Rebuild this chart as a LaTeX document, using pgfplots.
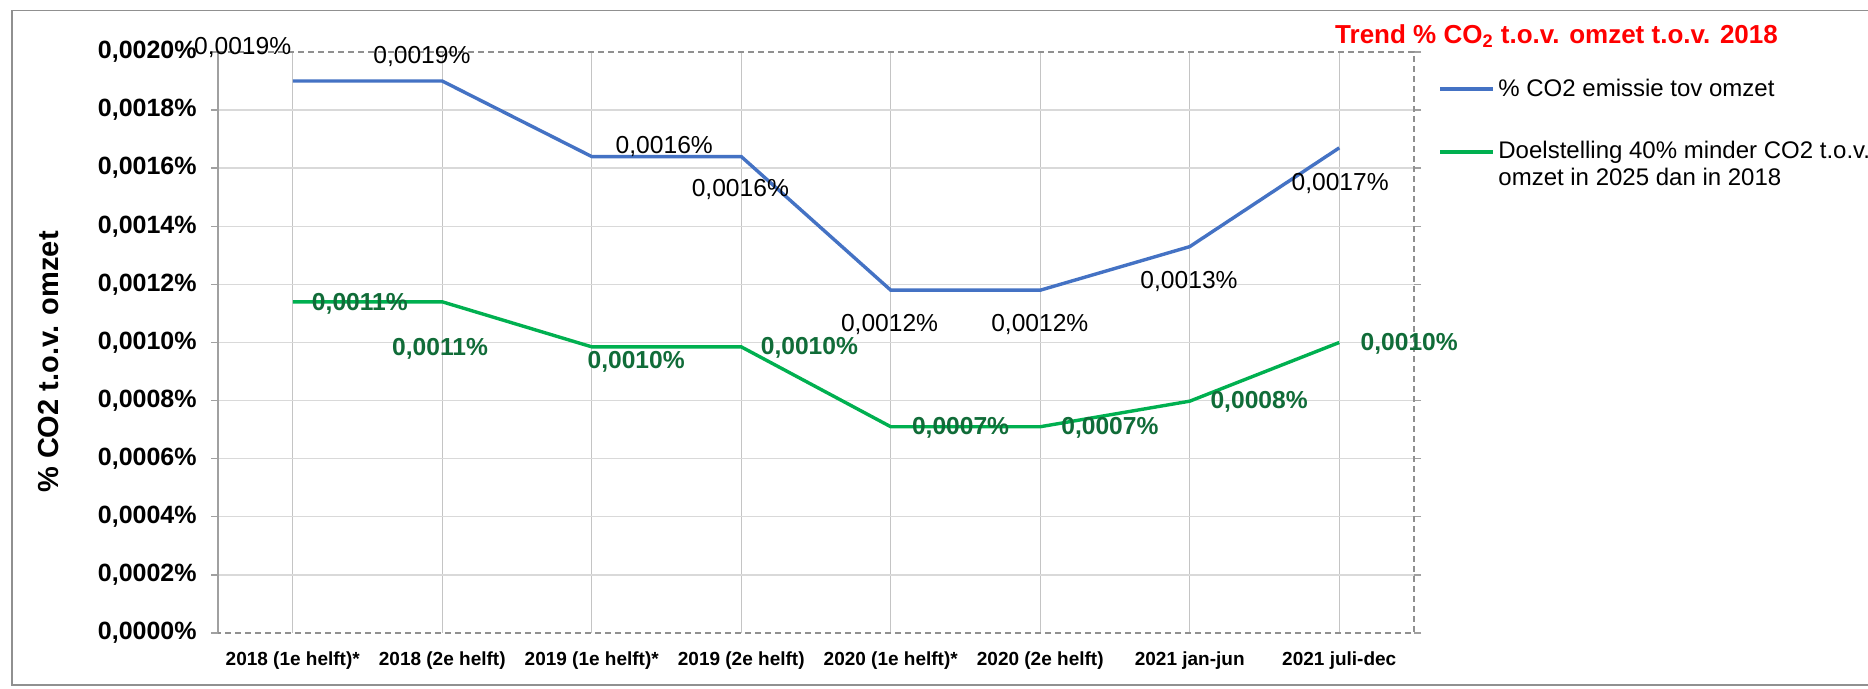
\documentclass[border=0pt]{standalone}
\usepackage{fontspec}
\setmainfont{Liberation Sans}
\usepackage{pgfplots}
\pgfplotsset{compat=1.18}
\definecolor{lblue}{HTML}{4472C4}
\definecolor{lgreen}{HTML}{00B050}
\definecolor{dgreen}{RGB}{16,108,56}
\definecolor{hgrid}{HTML}{D9D9D9}
\definecolor{vgrid}{HTML}{C4C4C4}
\definecolor{axgray}{HTML}{A0A0A0}
\definecolor{brd}{HTML}{909090}
\definecolor{tred}{HTML}{FF0000}
\begin{document}
\begin{tikzpicture}
\useasboundingbox (0,0) rectangle (934pt,344.5pt);
\clip (0,0) rectangle (934pt,344.5pt);
\fill[white] (0,0) rectangle (934pt,344.5pt);
\draw[brd, line width=0.7pt] (6pt,2pt) rectangle (950pt,339.2pt);
\begin{axis}[
  at={(109pt,28pt)}, anchor=south west,
  scale only axis, width=598pt, height=290.5pt,
  xmin=-0.5, xmax=7.5, ymin=0, ymax=0.002,
  clip=false,
  axis line style={draw=none},
  xtick={0,1,2,3,4,5,6,7},
  xticklabels={2018 (1e helft)*,2018 (2e helft),2019 (1e helft)*,2019 (2e helft),2020 (1e helft)*,2020 (2e helft),2021 jan-jun,2021 juli-dec},
  xticklabel style={font=\fontsize{9.5pt}{11pt}\selectfont\bfseries, anchor=center, yshift=-10.5pt},
  xtick style={draw=none},
  xmajorgrids, x grid style={draw=vgrid, line width=0.7pt},
  ytick={0.0002,0.0004,0.0006,0.0008,0.0010,0.0012,0.0014,0.0016,0.0018},
  yticklabels={{0,0002\%},{0,0004\%},{0,0006\%},{0,0008\%},{0,0010\%},{0,0012\%},{0,0014\%},{0,0016\%},{0,0018\%}},
  extra y ticks={0,0.002},
  extra y tick labels={{0,0000\%},{0,0020\%}},
  extra y tick style={ymajorgrids=false},
  ymajorgrids, y grid style={draw=hgrid, line width=0.7pt},
  yticklabel style={font=\fontsize{12.5pt}{14pt}\selectfont\bfseries, anchor=east, inner sep=0pt, xshift=-7pt},
  ytick style={draw=axgray, line width=0.7pt},
  tick align=outside, major tick length=3.5pt,
  scaled y ticks=false,
  ylabel={\% CO2 t.o.v. omzet},
  every axis y label/.style={at={(rel axis cs:0,0.4664)}, xshift=-84.5pt, rotate=90, anchor=center, font=\fontsize{14.5pt}{16pt}\selectfont\bfseries},
]
\draw[axgray, line width=0.7pt] (rel axis cs:0,0) -- (rel axis cs:0,1);
\draw[brd, line width=0.7pt, dash pattern=on 3pt off 2pt] (rel axis cs:0,1) -- (rel axis cs:1,1) -- (rel axis cs:1,0) -- (rel axis cs:0,0);
\addplot[lblue, line width=1.7pt, mark=none] coordinates {
  (0,0.00190) (1,0.00190) (2,0.00164) (3,0.00164) (4,0.00118) (5,0.00118) (6,0.00133) (7,0.00167)};
\addplot[lgreen, line width=1.7pt, mark=none] coordinates {
  (0,0.00114) (1,0.00114) (2,0.000985) (3,0.000985) (4,0.00071) (5,0.00071) (6,0.000798) (7,0.00100)};
% blue labels
\begin{scope}[every node/.style={font=\fontsize{12.3pt}{14pt}\selectfont, text=black, inner sep=0pt, anchor=center}]
\node at (axis cs:-0.335,0.002014) {0,0019\%};
\node at (axis cs:0.864,0.001983) {0,0019\%};
\node at (axis cs:2.485,0.001675) {0,0016\%};
\node at (axis cs:2.994,0.001528) {0,0016\%};
\node at (axis cs:3.992,0.001061) {0,0012\%};
\node at (axis cs:4.997,0.001061) {0,0012\%};
\node at (axis cs:5.995,0.001209) {0,0013\%};
\node at (axis cs:7.006,0.001547) {0,0017\%};
\end{scope}
% green labels
\begin{scope}[every node/.style={font=\fontsize{12.3pt}{14pt}\selectfont\bfseries, text=dgreen, inner sep=0pt, anchor=center}]
\node at (axis cs:0.449,0.001133) {0,0011\%};
\node at (axis cs:0.985,0.000978) {0,0011\%};
\node at (axis cs:2.297,0.000933) {0,0010\%};
\node at (axis cs:3.456,0.000981) {0,0010\%};
\node at (axis cs:4.467,0.000706) {0,0007\%};
\node at (axis cs:5.466,0.000706) {0,0007\%};
\node at (axis cs:6.464,0.000797) {0,0008\%};
\node at (axis cs:7.468,0.000995) {0,0010\%};
\end{scope}
\end{axis}
% title
\node[font=\fontsize{13pt}{15pt}\selectfont\bfseries, text=tred, anchor=center, inner sep=0pt] at (778.25pt,326.5pt) {Trend \% CO\textsubscript{2} t.o.v. omzet t.o.v. 2018};
% legend
\draw[lblue, line width=1.7pt] (720pt,300pt) -- (746.5pt,300pt);
\node[font=\fontsize{12pt}{14pt}\selectfont, anchor=base west, inner sep=0pt] at (749pt,296pt) {\% CO2 emissie tov omzet};
\draw[lgreen, line width=1.7pt] (720pt,268.5pt) -- (746.5pt,268.5pt);
\node[font=\fontsize{12pt}{14pt}\selectfont, anchor=base west, inner sep=0pt] at (749pt,265pt) {Doelstelling 40\% minder CO2 t.o.v.};
\node[font=\fontsize{12pt}{14pt}\selectfont, anchor=base west, inner sep=0pt] at (749pt,251.5pt) {omzet in 2025 dan in 2018};
\end{tikzpicture}
\end{document}
